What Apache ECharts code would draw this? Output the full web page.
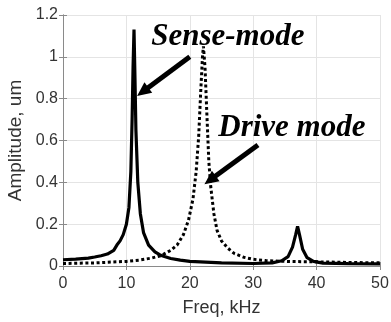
<!DOCTYPE html>
<html>
<head>
<meta charset="utf-8">
<script src="https://cdn.jsdelivr.net/npm/echarts@6/dist/echarts.min.js"></script>
<style>html,body{margin:0;padding:0;background:#fff}#c{width:391px;height:322px}</style>
</head>
<body>
<div id="c"></div>
<script>
// Sense-mode (solid) response
var senseFreq = [0, 2, 4, 5, 6, 7, 8, 8.5, 9, 9.5, 10, 10.4, 10.7, 10.9, 11.05, 11.2, 11.35, 11.5, 11.8, 12.2, 12.7, 13.5, 14.5, 15.3, 16, 17, 18.5, 20, 25, 30, 33, 34.5, 35.5, 36.2, 36.7, 37, 37.3, 37.8, 38.5, 39.5, 41, 45, 50];
var senseAmp  = [0.03, 0.033, 0.038, 0.043, 0.049, 0.057, 0.075, 0.1, 0.12, 0.15, 0.2, 0.28, 0.45, 0.7, 0.95, 1.13, 0.9, 0.65, 0.4, 0.25, 0.16, 0.1, 0.068, 0.053, 0.045, 0.036, 0.028, 0.022, 0.015, 0.012, 0.015, 0.025, 0.045, 0.09, 0.15, 0.19, 0.15, 0.08, 0.04, 0.022, 0.014, 0.011, 0.01];
// Drive mode (dotted) response
var driveFreq = [0, 5, 10, 12, 14, 15.5, 17, 18, 19, 19.8, 20.5, 21, 21.4, 21.7, 22, 22.15, 22.4, 22.7, 23, 23.3, 23.8, 24.3, 25, 26, 27, 28.5, 30, 32, 35, 37, 40, 45, 50];
var driveAmp  = [0.012, 0.015, 0.022, 0.028, 0.038, 0.05, 0.075, 0.1, 0.15, 0.22, 0.32, 0.45, 0.62, 0.82, 1.0, 1.05, 0.95, 0.72, 0.5, 0.38, 0.25, 0.17, 0.12, 0.085, 0.06, 0.042, 0.032, 0.026, 0.022, 0.021, 0.02, 0.017, 0.015];
// axis ticks
var xTicks = [0, 10, 20, 30, 40, 50];
var yTicks = [0, 0.2, 0.4, 0.6, 0.8, 1, 1.2];
// annotation arrows (data space): [tail, tip]
var senseArrow = [[20.0, 1.0], [12.57, 0.833]];
var driveArrow = [[30.75, 0.578], [23.2, 0.411]];
var senseLabel = 'Sense-mode';
var driveLabel = 'Drive mode';
var senseLabelAt = [26.0, 1.095];
var driveLabelAt = [36.1, 0.66];

function pairs(xs, ys) { return xs.map(function (x, i) { return [x, ys[i]]; }); }

var chart = echarts.init(document.getElementById('c'), null, {renderer: 'canvas'});
var axisColor = '#8a8a8a';
var labelStyle = {color: '#333', fontFamily: 'Liberation Sans', fontSize: 16};
chart.setOption({
  animation: false,
  backgroundColor: '#fff',
  grid: {left: 63, right: 11, top: 15, bottom: 56, containLabel: false, outerBoundsMode: 'none'},
  xAxis: [{
    type: 'value', min: xTicks[0], max: xTicks[xTicks.length - 1], interval: 10,
    name: 'Freq, kHz', nameLocation: 'middle', nameGap: 33,
    nameTextStyle: {color: '#333', fontFamily: 'Liberation Sans', fontSize: 18},
    axisLine: {show: true, onZero: false, lineStyle: {color: axisColor, width: 1}},
    axisTick: {show: true, inside: true, length: 4, lineStyle: {color: axisColor}},
    axisLabel: Object.assign({margin: 10}, labelStyle),
    splitLine: {show: true, lineStyle: {color: '#e4e4e4', width: 1}}
  }, {
    type: 'value', position: 'top', min: 0, max: 50, interval: 10,
    axisLine: {show: true, lineStyle: {color: axisColor, width: 1}},
    axisTick: {show: true, inside: true, length: 4, lineStyle: {color: axisColor}},
    axisLabel: {show: false}, splitLine: {show: false}
  }],
  yAxis: [{
    type: 'value', min: yTicks[0], max: yTicks[yTicks.length - 1], interval: 0.2,
    name: 'Amplitude, um', nameLocation: 'middle', nameGap: 29, nameRotate: 90,
    nameTextStyle: {color: '#333', fontFamily: 'Liberation Sans', fontSize: 19},
    axisLine: {show: true, onZero: false, lineStyle: {color: axisColor, width: 1}},
    axisTick: {show: true, inside: true, length: 4, lineStyle: {color: axisColor}},
    axisLabel: Object.assign({margin: 5, formatter: function (v) { return String(+v.toFixed(1)); }}, labelStyle),
    splitLine: {show: true, lineStyle: {color: '#e4e4e4', width: 1}}
  }, {
    type: 'value', position: 'right', min: 0, max: 1.2, interval: 0.2,
    axisLine: {show: true, lineStyle: {color: axisColor, width: 1}},
    axisTick: {show: true, inside: true, length: 4, lineStyle: {color: axisColor}},
    axisLabel: {show: false}, splitLine: {show: false}
  }],
  series: [{
    type: 'line', name: 'drive', data: pairs(driveFreq, driveAmp),
    showSymbol: false, symbol: 'none', smooth: false,
    lineStyle: {color: '#000', width: 3, type: [3, 2.6], cap: 'butt'}, z: 3
  }, {
    type: 'line', name: 'sense', data: pairs(senseFreq, senseAmp),
    showSymbol: false, symbol: 'none', smooth: false,
    lineStyle: {color: '#000', width: 3.2}, z: 4,
    markLine: {
      silent: true, symbol: ['none', 'triangle'], symbolSize: [13, 14],
      label: {show: false},
      lineStyle: {color: '#000', width: 5, type: 'solid'},
      data: [
        [{coord: senseArrow[0]}, {coord: senseArrow[1]}],
        [{coord: driveArrow[0]}, {coord: driveArrow[1]}]
      ]
    },
    markPoint: {
      silent: true, symbol: 'rect', symbolSize: 1, itemStyle: {color: 'transparent'},
      label: {show: true, position: 'inside', color: '#000', fontFamily: 'Liberation Serif', fontStyle: 'italic', fontWeight: 'bold', fontSize: 31},
      data: [
        {coord: senseLabelAt, value: senseLabel, label: {formatter: senseLabel}},
        {coord: driveLabelAt, value: driveLabel, label: {formatter: driveLabel}}
      ]
    }
  }]
});
</script>
</body>
</html>
